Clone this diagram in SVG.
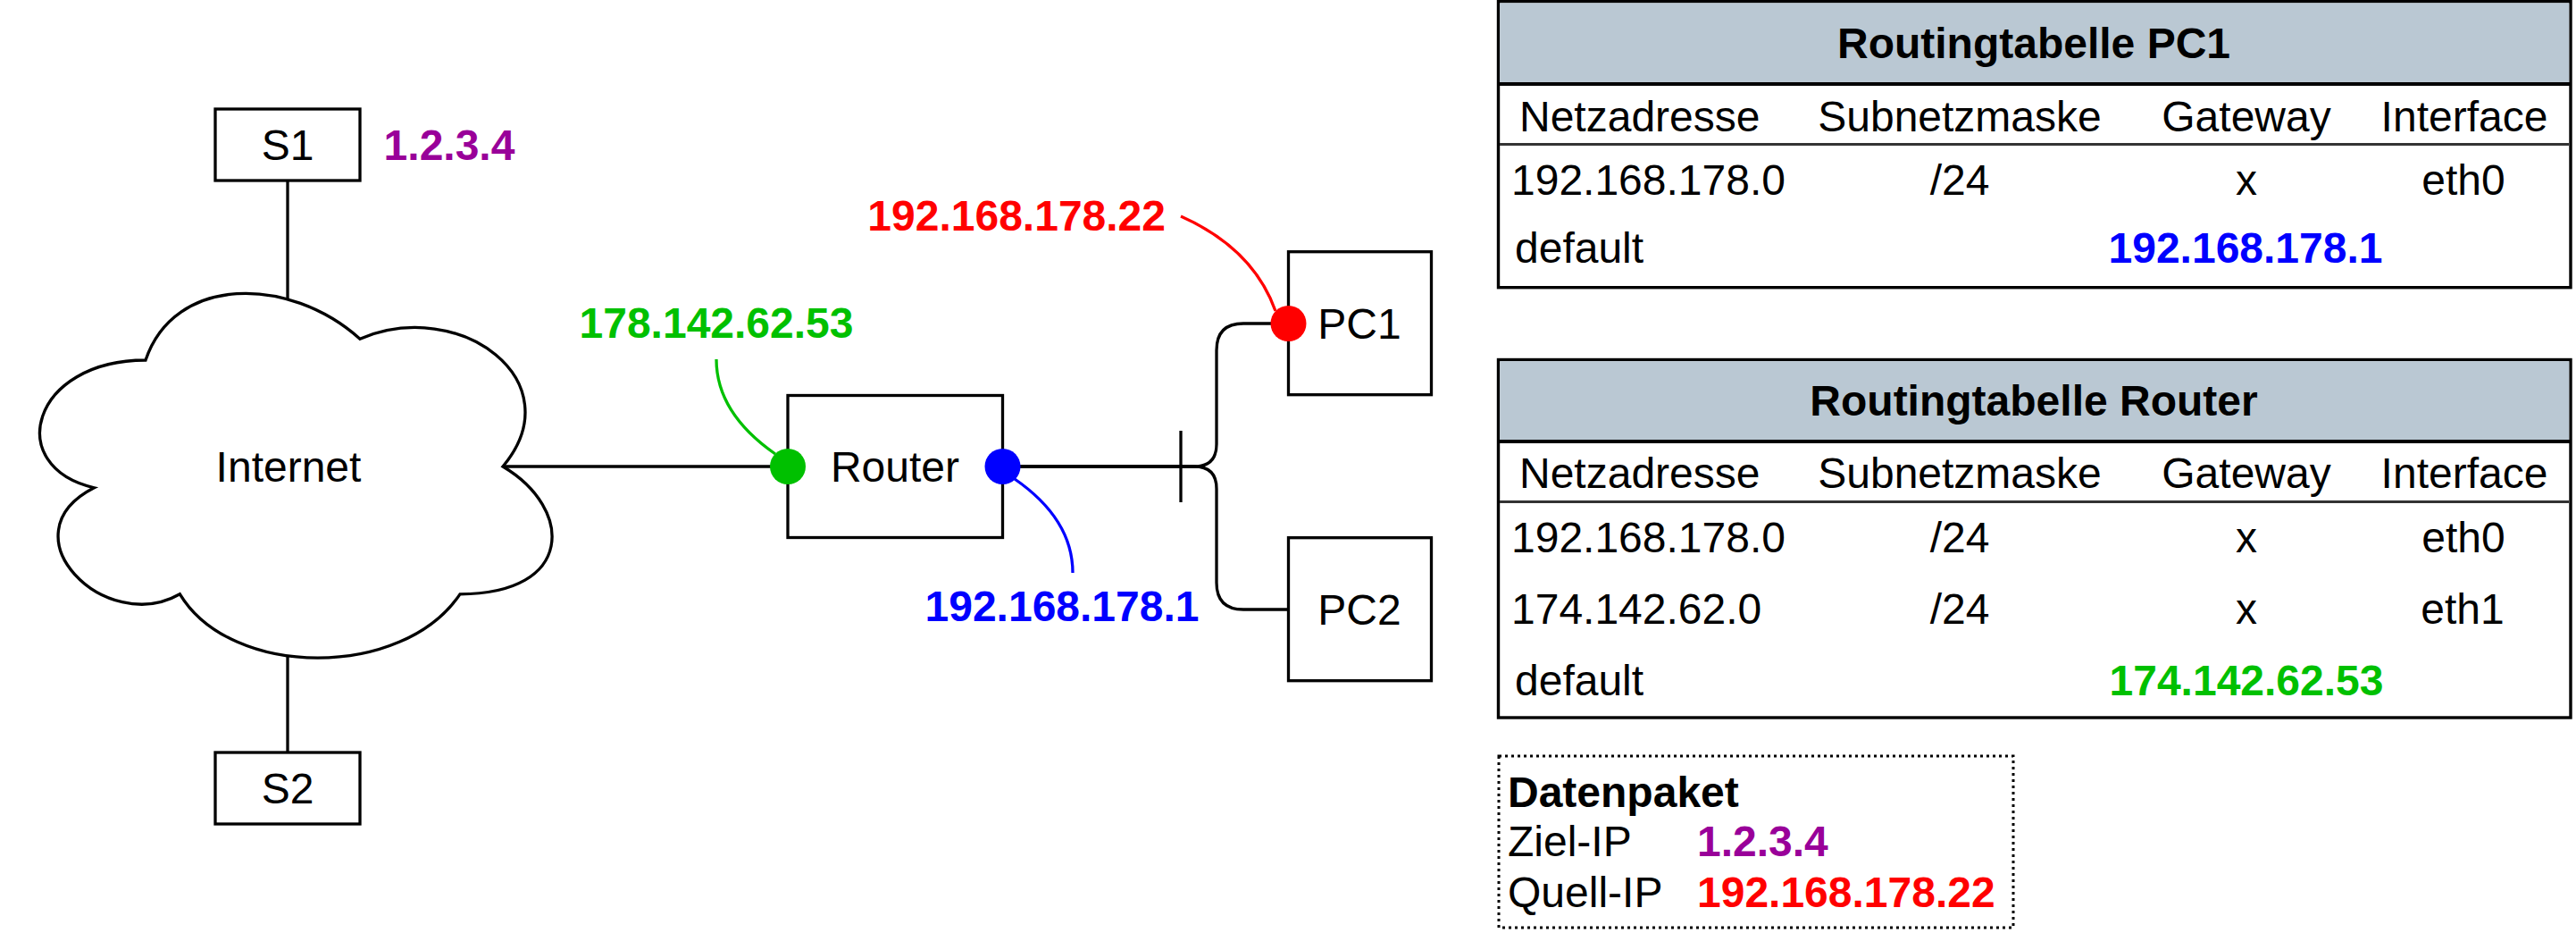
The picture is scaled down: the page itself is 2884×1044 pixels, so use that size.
<svg xmlns="http://www.w3.org/2000/svg" width="2884" height="1044" viewBox="0 0 2884 1044">
<style>
text{font-family:"Liberation Sans",Arial,sans-serif;font-size:48px;fill:#000}
.b{font-weight:bold}
.m{text-anchor:middle}
.e{text-anchor:end}
.box{fill:#fff;stroke:#000;stroke-width:3.3}
.ln{fill:none;stroke:#000;stroke-width:3.3}
.cv{fill:none;stroke-width:3.3}
.tb{fill:#fff;stroke:#000;stroke-width:3.4}
.hd{fill:#bac8d3}
.sep{stroke:#333;stroke-width:3}
.hsep{stroke:#000;stroke-width:4}
.g{fill:#00c000}.r{fill:#ff0000}.bl{fill:#0000ff}.p{fill:#990099}
</style>

<g id="connectors">
  <line class="ln" x1="322" y1="202" x2="322" y2="336"/>
  <line class="ln" x1="322" y1="733" x2="322" y2="842"/>
  <line class="ln" x1="563" y1="522" x2="882" y2="522"/>
  <path class="ln" d="M1122,522 H1337 Q1362,522 1362,497 V392 Q1362,362 1392,362 H1442"/>
  <path class="ln" d="M1122,522 H1337 Q1362,522 1362,547 V652 Q1362,682 1392,682 H1442"/>
  <line class="ln" x1="1322" y1="482" x2="1322" y2="562"/>
  <path class="cv" stroke="#00c000" d="M802,402 Q802,462 868,508"/>
  <path class="cv" stroke="#0000ff" d="M1136,536 Q1201,581 1201,641"/>
  <path class="cv" stroke="#ff0000" d="M1322,242 Q1403,278 1428,348"/>
</g>

<g id="internet">
  <path fill="#fff" stroke="#000" stroke-width="3.3" d="M163,403 C35,403 3,522 105.4,545.8 C3,598.2 118.2,712.4 201.4,664.8 C259,760 451,760 515,664.8 C643,664.8 643,569.6 563,522 C643,426.8 515,331.6 403,379.2 C323,307.8 195,307.8 163,403 Z"/>
  <text class="m" x="323" y="539">Internet</text>
</g>

<g id="s1">
  <rect class="box" x="241" y="122" width="162" height="80"/>
  <text class="m" x="322" y="179">S1</text>
</g>
<text class="b m p" x="503" y="179">1.2.3.4</text>

<g id="s2">
  <rect class="box" x="241" y="842" width="162" height="80"/>
  <text class="m" x="322" y="899">S2</text>
</g>

<g id="router">
  <rect class="box" x="882" y="442.5" width="240.5" height="159"/>
  <text class="m" x="1002" y="539">Router</text>
  <circle cx="882" cy="522" r="20" fill="#00c000"/>
  <circle cx="1122.5" cy="522" r="20" fill="#0000ff"/>
</g>

<g id="pc1">
  <rect class="box" x="1442.5" y="281.7" width="160" height="160"/>
  <text class="m" x="1522" y="379">PC1</text>
  <circle cx="1442.5" cy="362" r="20" fill="#ff0000"/>
</g>

<g id="pc2">
  <rect class="box" x="1442.5" y="601.7" width="160" height="160"/>
  <text class="m" x="1522" y="699">PC2</text>
</g>

<g id="labels">
  <text class="b m g" x="802" y="378">178.142.62.53</text>
  <text class="b e r" x="1305" y="258">192.168.178.22</text>
  <text class="b m bl" x="1189" y="695">192.168.178.1</text>
</g>

<g id="table-pc1">
  <rect class="tb" x="1677.5" y="1.7" width="1200.5" height="320"/>
  <rect class="hd" x="1679.2" y="3.4" width="1197" height="90.6"/>
  <line class="hsep" x1="1677.5" y1="94" x2="2878" y2="94"/>
  <line class="sep" x1="1679" y1="161.5" x2="2876" y2="161.5"/>
  <text class="b m" x="2277" y="65">Routingtabelle PC1</text>
  <text x="1701" y="147">Netzadresse</text>
  <text class="m" x="2194" y="147">Subnetzmaske</text>
  <text class="m" x="2515" y="147">Gateway</text>
  <text class="m" x="2759" y="147">Interface</text>
  <text x="1692" y="218">192.168.178.0</text>
  <text class="m" x="2194" y="218">/24</text>
  <text class="m" x="2515" y="218">x</text>
  <text class="m" x="2758" y="218">eth0</text>
  <text x="1696" y="294">default</text>
  <text class="b m bl" x="2514" y="294">192.168.178.1</text>
</g>

<g id="table-router">
  <rect class="tb" x="1677.5" y="402.5" width="1200.5" height="400.5"/>
  <rect class="hd" x="1679.2" y="404.2" width="1197" height="89.8"/>
  <line class="hsep" x1="1677.5" y1="494" x2="2878" y2="494"/>
  <line class="sep" x1="1679" y1="561.5" x2="2876" y2="561.5"/>
  <text class="b m" x="2277" y="465">Routingtabelle Router</text>
  <text x="1701" y="546">Netzadresse</text>
  <text class="m" x="2194" y="546">Subnetzmaske</text>
  <text class="m" x="2515" y="546">Gateway</text>
  <text class="m" x="2759" y="546">Interface</text>
  <text x="1692" y="618">192.168.178.0</text>
  <text class="m" x="2194" y="618">/24</text>
  <text class="m" x="2515" y="618">x</text>
  <text class="m" x="2758" y="618">eth0</text>
  <text x="1692" y="698">174.142.62.0</text>
  <text class="m" x="2194" y="698">/24</text>
  <text class="m" x="2515" y="698">x</text>
  <text class="m" x="2757" y="698">eth1</text>
  <text x="1696" y="778">default</text>
  <text class="b m g" x="2515" y="778">174.142.62.53</text>
</g>

<g id="datenpaket">
  <rect x="1678" y="846" width="576" height="192" fill="#fff" stroke="#000" stroke-width="3" stroke-dasharray="3 4"/>
  <text class="b" x="1688" y="903">Datenpaket</text>
  <text x="1688" y="958">Ziel-IP</text>
  <text x="1688" y="1015">Quell-IP</text>
  <text class="b p" x="1900" y="958">1.2.3.4</text>
  <text class="b r" x="1900" y="1015">192.168.178.22</text>
</g>
</svg>
